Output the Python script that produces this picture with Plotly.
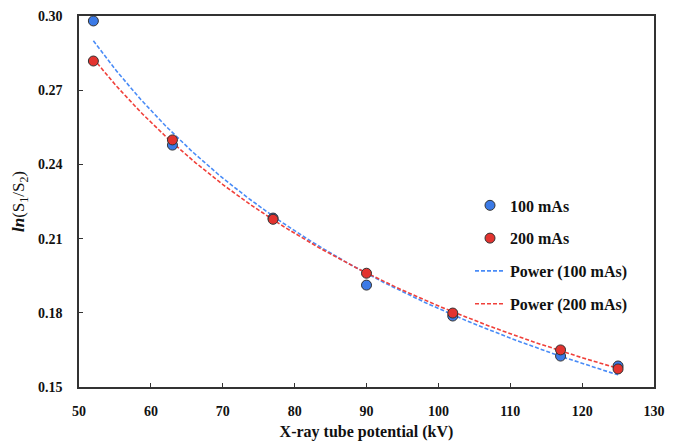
import numpy as np
import plotly.graph_objects as go

# Tube potential (kV) and measured ln(S1/S2)
kv = [52, 63, 77, 90, 102, 117, 125]
ln_100mas = [0.2980, 0.2478, 0.2183, 0.1912, 0.1787, 0.1625, 0.1585]
ln_200mas = [0.2818, 0.2499, 0.2178, 0.1960, 0.1799, 0.1650, 0.1573]

x_ticks = [50, 60, 70, 80, 90, 100, 110, 120, 130]
y_ticks = [0.15, 0.18, 0.21, 0.24, 0.27, 0.30]

BLUE = "#3b7ae6"
RED = "#e3332f"
FONT = "Liberation Serif"


def power_fit(x, y):
    """Least-squares power trendline y = a * x**b (fit in log-log space)."""
    b, log_a = np.polyfit(np.log(x), np.log(y), 1)
    xs = np.linspace(min(x), max(x), 200)
    return xs, np.exp(log_a) * xs ** b


fig = go.Figure()

# trendlines first so the markers sit on top
xs, ys = power_fit(kv, ln_100mas)
fig.add_trace(go.Scatter(
    x=xs, y=ys, mode="lines", name="Power (100 mAs)", legendgroup="c",
    legendrank=3, line=dict(color="#4a8cf7", width=1.6, dash="4px,2px"),
))
xs, ys = power_fit(kv, ln_200mas)
fig.add_trace(go.Scatter(
    x=xs, y=ys, mode="lines", name="Power (200 mAs)", legendgroup="d",
    legendrank=4, line=dict(color="#f0403a", width=1.6, dash="4px,2px"),
))

marker_line = dict(color="#333333", width=1)
fig.add_trace(go.Scatter(
    x=kv, y=ln_100mas, mode="markers", name="100 mAs", legendgroup="a",
    legendrank=1, marker=dict(color=BLUE, size=10, line=marker_line),
))
fig.add_trace(go.Scatter(
    x=kv, y=ln_200mas, mode="markers", name="200 mAs", legendgroup="b",
    legendrank=2, marker=dict(color=RED, size=10, line=marker_line),
))

axis_common = dict(
    showline=True, linecolor="#333333", linewidth=1.5, mirror=True,
    ticks="inside", ticklen=4, tickcolor="#333333", tickwidth=1,
    showgrid=False, zeroline=False, automargin=False,
    tickfont=dict(family=FONT, size=14, color="#111111", weight="bold"),
)

fig.update_layout(
    width=677, height=441,
    margin=dict(l=79, r=23, t=16, b=54),
    paper_bgcolor="white", plot_bgcolor="white",
    font=dict(family=FONT, color="#111111"),
    xaxis=dict(
        range=[50, 130], tickvals=x_ticks, ticklabelstandoff=10,
        title=dict(text="<b>X-ray tube potential (kV)</b>",
                   font=dict(family=FONT, size=16), standoff=8),
        **axis_common,
    ),
    yaxis=dict(
        range=[0.15, 0.30], tickvals=y_ticks, tickformat=".2f",
        ticklabelstandoff=12,
        title=dict(text="<b><i>ln</i></b>(S<sub>1</sub>/S<sub>2</sub>)",
                   font=dict(family=FONT, size=17), standoff=9),
        **axis_common,
    ),
    legend=dict(
        x=0.68, y=0.356, xanchor="left", yanchor="middle",
        traceorder="grouped", tracegroupgap=9,
        font=dict(family=FONT, size=16, weight="bold"),
        bgcolor="rgba(0,0,0,0)",
    ),
)

fig.write_html("out.html")
